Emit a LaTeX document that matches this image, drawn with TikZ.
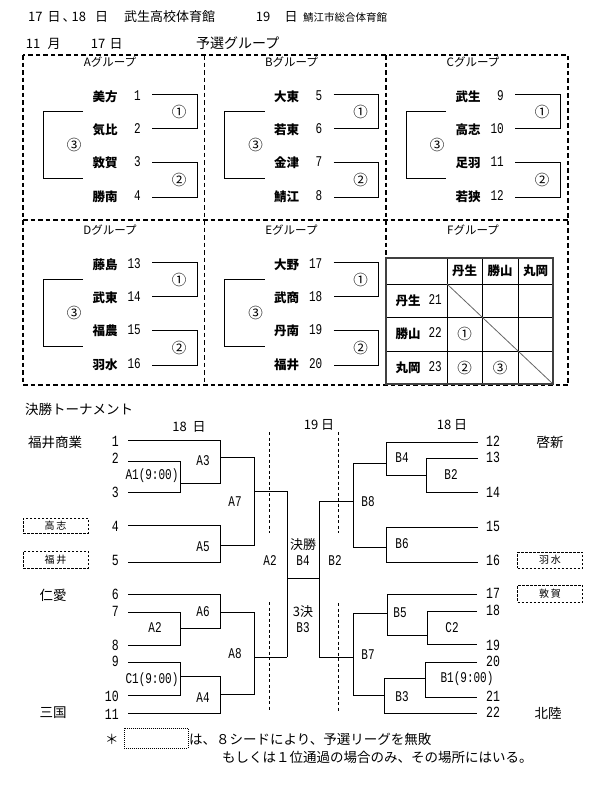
\documentclass[tikz,border=0pt]{standalone}
\usepackage{fontspec}
\usepackage{graphicx}
\setmainfont{Liberation Serif}
\newfontfamily\jp{Noto Sans CJK JP}
\newfontfamily\mono{Liberation Mono}
\newcommand\Tall[1]{\scalebox{1}[1.35]{#1}}
\begin{document}
\begin{tikzpicture}[x=1pt,y=-1pt,
  ln/.style={line width=0.9pt},
  gbox/.style={line width=1.1pt, dash pattern=on 4.5pt off 3pt},
  vdash/.style={line width=0.8pt, dash pattern=on 3pt off 2.5pt},
  seedbox/.style={draw, line width=0.8pt, dash pattern=on 2.5pt off 1.5pt, minimum width=65pt, inner sep=0, font=\jp\fontsize{10}{10}\selectfont},
  hd/.style={inner sep=0, font=\jp\fontsize{13}{13}\selectfont},
  hds/.style={inner sep=0, font=\jp\fontsize{10.5}{10.5}\selectfont},
  gtitle/.style={inner sep=0, font=\jp\fontsize{11.5}{11.5}\selectfont},
  gname/.style={inner sep=0, font=\jp\bfseries\fontsize{12.5}{12.5}\selectfont},
  gnum/.style={inner sep=0, anchor=east, font=\mono\fontsize{11}{11}\selectfont},
  circ/.style={inner sep=0, font=\jp\fontsize{14.5}{14.5}\selectfont},
  team/.style={inner sep=0, font=\jp\fontsize{13.5}{13.5}\selectfont},
  lnum/.style={inner sep=0, anchor=east, font=\mono\fontsize{11.5}{11.5}\selectfont},
  rnum/.style={inner sep=0, anchor=west, font=\mono\fontsize{11.5}{11.5}\selectfont},
  code/.style={inner sep=0, font=\mono\fontsize{11}{11}\selectfont},
  note/.style={inner sep=0, anchor=west, font=\jp\fontsize{13.5}{13.5}\selectfont}
]
\useasboundingbox (0,0) rectangle (601,795);

% ---------- header ----------
\node[hd, anchor=west] (hdate) at (28,17) {17\hspace{5pt}日\hspace{2pt}、\hspace{-4pt}18\hspace{9pt}日};
\node[hd, anchor=west] (hv) at (124,17) {武生高校体育館};
\node[hd] (h19) at (263,17) {19};
\node[hd] (hd3) at (291,17) {日};
\node[hds, anchor=west] (hs) at (303,17) {鯖江市総合体育館};
\node[hd] (m11) at (33,44) {11};
\node[hd] (mm) at (54,44) {月};
\node[hd] (m17) at (98,44) {17};
\node[hd] (md) at (116,44) {日};
\node[hd, anchor=west, font=\jp\fontsize{14}{14}\selectfont] (yo) at (196,43) {予選グループ};

% ---------- group frame ----------
\draw[gbox] (23,55) rectangle (568,385);
\draw[gbox] (204.5,55) -- (204.5,385);
\draw[gbox] (386,55) -- (386,385);
\draw[gbox] (23,220) -- (568,220);

% ---------- groups A-E ----------
\foreach \gx/\gy/\gl/\na/\nb/\nc/\nd/\ka/\kb/\kc/\kd in {
  23/0/A/美方/気比/敦賀/勝南/1/2/3/4,
  204.5/0/B/大東/若東/金津/鯖江/5/6/7/8,
  386/0/C/武生/高志/足羽/若狭/9/10/11/12,
  23/168/D/藤島/武東/福農/羽水/13/14/15/16,
  204.5/168/E/大野/武商/丹南/福井/17/18/19/20}{
  \node[gtitle] (t\gl) at (\gx+87,62+\gy) {\gl グループ};
  \node[gname] (n\gl a) at (\gx+82,97+\gy) {\na};
  \node[gname] (n\gl b) at (\gx+82,130+\gy) {\nb};
  \node[gname] (n\gl c) at (\gx+82,163+\gy) {\nc};
  \node[gname] (n\gl d) at (\gx+82,197+\gy) {\nd};
  \node[gnum] (k\gl a) at (\gx+118,96+\gy) {\Tall{\ka}};
  \node[gnum] (k\gl b) at (\gx+118,129+\gy) {\Tall{\kb}};
  \node[gnum] (k\gl c) at (\gx+118,162+\gy) {\Tall{\kc}};
  \node[gnum] (k\gl d) at (\gx+118,196+\gy) {\Tall{\kd}};
  \draw[ln] (\gx+129,94+\gy) -| (\gx+174,128+\gy) -- (\gx+129,128+\gy);
  \draw[ln] (\gx+129,162+\gy) -| (\gx+174,197+\gy) -- (\gx+129,197+\gy);
  \draw[ln] (\gx+60,111+\gy) -| (\gx+20,178+\gy) -- (\gx+60,178+\gy);
  \node[circ] (c\gl 1) at (\gx+156,112+\gy) {①};
  \node[circ] (c\gl 2) at (\gx+156,180+\gy) {②};
  \node[circ] (c\gl 3) at (\gx+51,145+\gy) {③};
}

% ---------- group F table ----------
\node[gtitle] (tF) at (473,230) {Fグループ};
\draw[line width=0.8pt] (447,258) -- (447,384) (482,258) -- (482,384) (518,258) -- (518,384)
  (386,284) -- (553,284) (386,317) -- (553,317) (386,351) -- (553,351);
\draw[line width=0.8pt, black!60] (447,284) -- (553,384);
\draw[line width=1.5pt, black!75] (386,258) rectangle (553,384);
\node[gname] (fh1) at (464.5,271) {丹生};
\node[gname] (fh2) at (500,271) {勝山};
\node[gname] (fh3) at (535.5,271) {丸岡};
\node[gname] (fr1) at (408,300.5) {丹生};
\node[gname] (fr2) at (408,334) {勝山};
\node[gname] (fr3) at (408,367.5) {丸岡};
\node[gnum] (fk1) at (442,299.5) {\Tall{21}};
\node[gnum] (fk2) at (442,333) {\Tall{22}};
\node[gnum] (fk3) at (442,366.5) {\Tall{23}};
\node[circ] (fc1) at (464.5,334) {①};
\node[circ] (fc2) at (464.5,367.5) {②};
\node[circ] (fc3) at (500,367.5) {③};

% ---------- final tournament ----------
\node[team, anchor=west] (kt) at (25,409) {決勝トーナメント};
\node[hd] (d18l) at (189,427) {18\ \ 日};
\node[hd] (d19) at (319,425) {19 日};
\node[hd] (d18r) at (452,425) {18 日};

\node[team] (fs) at (55,442) {福井商業};
\node[team] (ja) at (53,595) {仁愛};
\node[team] (mk) at (53,713) {三国};
\node[team] (ks) at (550,442) {啓新};
\node[team] (hr) at (548,713) {北陸};
\node[seedbox, minimum height=15pt] (sb1) at (55.5,525.5) {高\,志};
\node[seedbox, minimum height=17pt] (sb2) at (55.5,559.5) {福\,井};
\node[seedbox, minimum height=16pt] (sb3) at (550,560) {羽\,水};
\node[seedbox, minimum height=17pt] (sb4) at (550,593.5) {敦\,賀};

% left numbers
\foreach \n/\y in {1/441,2/458,3/492,4/526,5/560,6/594,7/611,8/645,9/661,10/696,11/714}{
  \node[lnum] (L\n) at (119,\y) {\Tall{\n}};
}
% right numbers
\foreach \n/\y in {12/441,13/457,14/492,15/526,16/560,17/593,18/610,19/645,20/661,21/696,22/712}{
  \node[rnum] (R\n) at (486,\y) {\Tall{\n}};
}

% left bracket lines
\draw[ln] (128,440) -| (220,483) -- (180,483);
\draw[ln] (128,461) -| (180,492) -- (128,492);
\draw[ln] (220,457) -- (254,457);
\draw[ln] (128,525) -| (220,562) -- (128,562);
\draw[ln] (220,545) -| (254,457);
\draw[ln] (254,491) -- (287,491);
\draw[ln] (128,594) -| (220,628) -- (180,628);
\draw[ln] (128,612) -| (180,645) -- (128,645);
\draw[ln] (220,612) -- (254,612);
\draw[ln] (128,662) -| (180,695) -- (128,695);
\draw[ln] (180,676) -| (220,713) -- (128,713);
\draw[ln] (220,694) -| (254,612);
\draw[ln] (254,657) -- (287,657);
% centre
\draw[ln] (287,491) -- (287,657);
\draw[ln] (287,578) -- (319,578);
\draw[ln] (319,501) -- (319,657);
\draw[ln] (319,501) -- (353,501);
\draw[ln] (319,657) -- (353,657);
% right bracket lines
\draw[ln] (386,463) -- (353,463) |- (386,547);
\draw[ln] (478,442) -| (386,475) -- (426,475);
\draw[ln] (478,458) -| (426,492) -- (478,492);
\draw[ln] (478,527) -| (386,562) -- (478,562);
\draw[ln] (387,613) -- (353,613) |- (384,695);
\draw[ln] (477,594) -| (387,635) -- (427,635);
\draw[ln] (477,611) -| (427,644) -- (477,644);
\draw[ln] (425,678) -- (384,678) |- (477,713);
\draw[ln] (477,662) -| (425,697) -- (477,697);

% day dividers
\draw[vdash] (269,432) -- (269,533);
\draw[vdash] (338,432) -- (338,533);
\draw[vdash] (269,602) -- (269,710);
\draw[vdash] (338,603) -- (338,712);

% match labels
\node[code] (a1) at (152,476) {\Tall{A1(9:00)}};
\node[code] (a3) at (203,461) {\Tall{A3}};
\node[code] (a5) at (203,547) {\Tall{A5}};
\node[code] (a7) at (235,502) {\Tall{A7}};
\node[code] (a2c) at (270,561) {\Tall{A2}};
\node[team, font=\jp\fontsize{13}{13}\selectfont] (fin) at (303,545) {決勝};
\node[code] (b4c) at (303,561) {\Tall{B4}};
\node[code] (b2c) at (335,561) {\Tall{B2}};
\node[team, font=\jp\fontsize{13}{13}\selectfont] (thr) at (303,612) {3決};
\node[code] (b3c) at (303,628) {\Tall{B3}};
\node[code] (a2) at (155,628) {\Tall{A2}};
\node[code] (a6) at (203,612) {\Tall{A6}};
\node[code] (c1) at (152,680) {\Tall{C1(9:00)}};
\node[code] (a4) at (203,698) {\Tall{A4}};
\node[code] (a8) at (235,654) {\Tall{A8}};
\node[code] (b4) at (402,458) {\Tall{B4}};
\node[code] (b2) at (451,475) {\Tall{B2}};
\node[code] (b8) at (368,502) {\Tall{B8}};
\node[code] (b6) at (402,544) {\Tall{B6}};
\node[code] (b5) at (400,613) {\Tall{B5}};
\node[code] (c2) at (452,628) {\Tall{C2}};
\node[code] (b7) at (368,655) {\Tall{B7}};
\node[code] (b3) at (402,697) {\Tall{B3}};
\node[code] (b1) at (467,679) {\Tall{B1(9:00)}};

% ---------- note ----------
\node[note] (ast) at (105,739) {＊};
\node[draw, line width=0.7pt, dash pattern=on 1pt off 1pt, minimum width=64pt, minimum height=20pt, inner sep=0] (nb) at (156,738) {};
\node[note] (n1) at (189,739) {は、８シードにより、予選リーグを無敗};
\node[note] (n2) at (222,757) {もしくは１位通過の場合のみ、その場所にはいる。};
\end{tikzpicture}
\end{document}
